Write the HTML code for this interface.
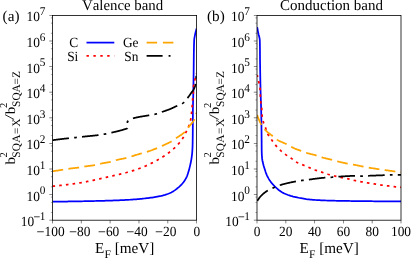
<!DOCTYPE html>
<html><head><meta charset="utf-8"><title>plot</title>
<style>html,body{margin:0;padding:0;background:#fff;overflow:hidden}body{width:411px;height:259px}</style></head>
<body>
<svg width="411" height="259" viewBox="0 0 411 259" text-rendering="geometricPrecision" style="display:block;font-kerning:none;font-family:'Liberation Serif',serif" fill="#000">
<rect width="411" height="259" fill="#fff"/>
<clipPath id="c1"><rect x="52.50" y="15.40" width="144.10" height="204.80"/></clipPath>
<g clip-path="url(#c1)">
<path d="M52.50,201.70 L53.83,201.69 L55.16,201.67 L56.49,201.66 L57.82,201.64 L59.15,201.62 L60.48,201.61 L61.80,201.59 L63.13,201.57 L64.46,201.55 L65.79,201.53 L67.12,201.51 L68.45,201.49 L69.78,201.47 L71.11,201.45 L72.44,201.43 L73.77,201.41 L75.10,201.39 L76.43,201.36 L77.75,201.34 L79.08,201.32 L80.41,201.29 L81.74,201.27 L83.07,201.25 L84.40,201.22 L85.73,201.20 L87.06,201.17 L88.39,201.14 L89.72,201.11 L91.04,201.09 L92.37,201.06 L93.70,201.03 L95.03,201.00 L96.36,200.97 L97.69,200.93 L99.02,200.90 L100.35,200.87 L101.68,200.83 L103.01,200.79 L104.33,200.76 L105.66,200.72 L106.99,200.68 L108.32,200.64 L109.65,200.60 L110.98,200.55 L112.31,200.51 L113.64,200.46 L114.96,200.42 L116.29,200.37 L117.62,200.32 L118.95,200.26 L120.28,200.21 L121.61,200.15 L122.94,200.09 L124.26,200.03 L125.59,199.96 L126.92,199.89 L128.24,199.82 L129.57,199.75 L130.90,199.67 L132.22,199.58 L133.55,199.49 L134.87,199.39 L136.20,199.28 L137.52,199.17 L138.85,199.04 L140.17,198.92 L141.50,198.78 L142.82,198.64 L144.14,198.50 L145.46,198.35 L146.78,198.19 L148.10,198.03 L149.42,197.87 L150.74,197.70 L152.05,197.51 L153.37,197.30 L154.68,197.07 L155.99,196.85 L157.30,196.62 L158.61,196.38 L159.92,196.12 L161.22,195.85 L162.51,195.55 L163.79,195.22 L165.08,194.85 L166.36,194.45 L167.63,194.02 L168.88,193.55 L170.09,193.04 L171.26,192.48 L172.42,191.84 L173.55,191.14 L174.67,190.38 L175.75,189.58 L176.82,188.76 L177.85,187.92 L178.86,187.08 L179.86,186.18 L180.83,185.25 L181.76,184.29 L182.63,183.29 L183.44,182.26 L184.21,181.18 L184.95,180.06 L185.64,178.91 L186.28,177.73 L186.84,176.53 L187.33,175.31 L187.77,174.06 L188.17,172.78 L188.55,171.50 L188.92,170.22 L189.27,168.94 L189.60,167.65 L189.92,166.36 L190.21,165.07 L190.50,163.77 L190.78,162.47 L191.04,161.16 L191.28,159.85 L191.49,158.54 L191.68,157.23 L191.86,155.91 L192.02,154.59 L192.15,153.27 L192.26,151.94 L192.35,150.62 L192.43,149.29 L192.49,147.96 L192.55,146.63 L192.59,145.30 L192.62,143.97 L192.65,142.65 L192.67,141.32 L192.69,139.99 L192.71,138.66 L192.73,137.33 L192.75,136.00 L192.76,134.67 L192.77,133.34 L192.78,132.01 L192.79,130.68 L192.80,129.35 L192.81,128.02 L192.82,126.69 L192.83,125.36 L192.83,124.03 L192.84,122.71 L192.84,121.38 L192.85,120.05 L192.85,118.72 L192.86,117.39 L192.86,116.06 L192.87,114.73 L192.88,113.40 L192.88,112.07 L192.89,110.74 L192.91,109.41 L192.92,108.08 L192.95,106.76 L192.97,105.43 L193.01,104.10 L193.04,102.77 L193.08,101.44 L193.12,100.11 L193.15,98.78 L193.19,97.45 L193.23,96.12 L193.26,94.80 L193.29,93.47 L193.32,92.14 L193.34,90.81 L193.37,89.48 L193.39,88.15 L193.41,86.82 L193.44,85.49 L193.46,84.16 L193.48,82.83 L193.50,81.50 L193.52,80.18 L193.54,78.85 L193.56,77.52 L193.58,76.19 L193.60,74.86 L193.62,73.53 L193.64,72.20 L193.65,70.87 L193.67,69.54 L193.68,68.21 L193.69,66.88 L193.71,65.55 L193.72,64.22 L193.73,62.90 L193.75,61.57 L193.76,60.24 L193.77,58.91 L193.79,57.58 L193.81,56.25 L193.82,54.92 L193.84,53.59 L193.86,52.26 L193.88,50.93 L193.91,49.60 L193.93,48.27 L193.96,46.94 L193.99,45.61 L194.02,44.28 L194.07,42.95 L194.12,41.62 L194.18,40.30 L194.29,38.98 L194.49,37.66 L194.73,36.35 L194.98,35.05 L195.25,33.75 L195.55,32.46 L195.87,31.16 L196.22,29.88 L196.60,28.60" stroke="#0000ff" stroke-width="1.75" fill="none" stroke-linejoin="round"/>
<path d="M52.50,186.20 L53.45,186.12 L54.41,186.04 L55.36,185.95 L56.32,185.86 L57.27,185.77 L58.22,185.68 L59.17,185.58 L60.13,185.48 L61.08,185.38 L62.03,185.27 L62.98,185.16 L63.93,185.05 L64.88,184.93 L65.83,184.82 L66.77,184.70 L67.72,184.58 L68.67,184.45 L69.62,184.33 L70.56,184.20 L71.51,184.07 L72.45,183.94 L73.40,183.80 L74.34,183.67 L75.29,183.53 L76.23,183.39 L77.18,183.25 L78.12,183.10 L79.06,182.96 L80.00,182.81 L80.95,182.67 L81.89,182.51 L82.83,182.35 L83.77,182.19 L84.71,182.02 L85.64,181.84 L86.58,181.67 L87.52,181.48 L88.46,181.30 L89.39,181.11 L90.33,180.91 L91.27,180.72 L92.20,180.52 L93.14,180.32 L94.07,180.11 L95.01,179.91 L95.94,179.70 L96.87,179.49 L97.81,179.28 L98.74,179.07 L99.67,178.85 L100.60,178.64 L101.54,178.42 L102.47,178.21 L103.40,178.00 L104.33,177.78 L105.27,177.57 L106.20,177.36 L107.13,177.15 L108.06,176.94 L108.99,176.73 L109.93,176.52 L110.86,176.31 L111.79,176.10 L112.73,175.89 L113.66,175.68 L114.60,175.47 L115.53,175.26 L116.46,175.04 L117.39,174.83 L118.33,174.61 L119.26,174.39 L120.19,174.17 L121.12,173.94 L122.05,173.71 L122.98,173.48 L123.90,173.25 L124.83,173.01 L125.75,172.77 L126.67,172.52 L127.59,172.27 L128.51,172.02 L129.43,171.76 L130.34,171.49 L131.26,171.22 L132.17,170.95 L133.08,170.66 L133.99,170.37 L134.90,170.07 L135.80,169.76 L136.71,169.44 L137.61,169.12 L138.51,168.79 L139.41,168.46 L140.30,168.12 L141.19,167.77 L142.08,167.42 L142.97,167.06 L143.85,166.70 L144.73,166.34 L145.60,165.96 L146.48,165.58 L147.35,165.19 L148.22,164.79 L149.09,164.38 L149.95,163.97 L150.82,163.55 L151.67,163.12 L152.53,162.69 L153.38,162.25 L154.23,161.81 L155.07,161.36 L155.91,160.91 L156.75,160.45 L157.58,159.99 L158.41,159.52 L159.24,159.04 L160.07,158.56 L160.89,158.07 L161.72,157.57 L162.53,157.07 L163.34,156.56 L164.15,156.03 L164.95,155.51 L165.74,154.97 L166.52,154.42 L167.30,153.87 L168.06,153.31 L168.81,152.73 L169.56,152.15 L170.31,151.55 L171.05,150.95 L171.79,150.33 L172.52,149.71 L173.24,149.07 L173.96,148.43 L174.67,147.77 L175.36,147.11 L176.05,146.44 L176.72,145.76 L177.39,145.08 L178.03,144.39 L178.67,143.69 L179.30,142.97 L179.92,142.24 L180.53,141.49 L181.11,140.73 L181.68,139.96 L182.23,139.17 L182.74,138.38 L183.23,137.56 L183.70,136.73 L184.15,135.89 L184.59,135.03 L185.02,134.17 L185.44,133.32 L185.87,132.46 L186.30,131.61 L186.74,130.75 L187.16,129.89 L187.58,129.03 L187.97,128.16 L188.34,127.28 L188.68,126.39 L189.00,125.50 L189.32,124.59 L189.63,123.68 L189.91,122.76 L190.18,121.84 L190.41,120.91 L190.60,119.98 L190.77,119.05 L190.92,118.11 L191.06,117.16 L191.19,116.21 L191.30,115.26 L191.41,114.31 L191.52,113.36 L191.61,112.41 L191.70,111.46 L191.78,110.50 L191.86,109.55 L191.94,108.60 L192.02,107.65 L192.09,106.69 L192.17,105.74 L192.24,104.79 L192.31,103.83 L192.38,102.88 L192.45,101.93 L192.52,100.98 L192.60,100.02 L192.69,99.07 L192.79,98.12 L192.90,97.17 L193.00,96.22 L193.11,95.27 L193.20,94.32 L193.28,93.37 L193.33,92.42 L193.37,91.46 L193.41,90.50 L193.44,89.54 L193.47,88.59 L193.51,87.63 L193.55,86.68 L193.62,85.74 L193.75,84.80 L193.94,83.86 L194.17,82.93 L194.42,82.00 L194.67,81.07 L194.89,80.14 L195.09,79.21 L195.30,78.27 L195.50,77.34 L195.70,76.40 L195.90,75.47 L196.10,74.53 L196.30,73.60" stroke="#ff0000" stroke-width="1.75" fill="none" stroke-linejoin="round" stroke-dasharray="2.6 4.14" stroke-dashoffset="0.00"/>
<path d="M52.50,171.20 L53.24,171.11 L53.97,171.01 L54.71,170.91 L55.45,170.82 L56.18,170.71 L56.92,170.61 L57.65,170.51 L58.39,170.40 L59.12,170.30 L59.86,170.19 L60.59,170.08 L61.32,169.97 L62.06,169.86 L62.79,169.75 L63.52,169.63 L64.26,169.51 L64.99,169.39 L65.72,169.26 L66.45,169.13 L67.18,169.00 L67.92,168.88 L68.65,168.77 L69.38,168.66 L70.12,168.56 L70.85,168.47 L71.59,168.38 L72.33,168.30 L73.07,168.22 L73.81,168.14 L74.55,168.06 L75.28,167.98 L76.02,167.90 L76.76,167.81 L77.50,167.72 L78.23,167.62 L78.97,167.52 L79.70,167.41 L80.43,167.28 L81.16,167.14 L81.89,167.00 L82.62,166.85 L83.35,166.72 L84.08,166.59 L84.81,166.47 L85.54,166.36 L86.28,166.26 L87.02,166.17 L87.76,166.08 L88.50,165.99 L89.24,165.91 L89.98,165.83 L90.71,165.74 L91.45,165.65 L92.19,165.56 L92.92,165.46 L93.66,165.35 L94.39,165.24 L95.12,165.12 L95.84,164.97 L96.56,164.80 L97.28,164.60 L97.99,164.40 L98.71,164.19 L99.43,163.99 L100.14,163.81 L100.87,163.64 L101.59,163.49 L102.32,163.35 L103.05,163.22 L103.79,163.09 L104.52,162.96 L105.26,162.84 L105.99,162.72 L106.72,162.60 L107.46,162.48 L108.19,162.35 L108.92,162.21 L109.65,162.07 L110.37,161.92 L111.09,161.75 L111.80,161.57 L112.51,161.35 L113.22,161.12 L113.92,160.87 L114.62,160.62 L115.33,160.39 L116.04,160.17 L116.75,159.98 L117.47,159.81 L118.20,159.64 L118.92,159.48 L119.65,159.33 L120.38,159.19 L121.11,159.04 L121.84,158.90 L122.57,158.76 L123.30,158.62 L124.03,158.47 L124.76,158.32 L125.48,158.16 L126.21,158.00 L126.92,157.82 L127.64,157.63 L128.35,157.43 L129.06,157.21 L129.76,156.97 L130.47,156.73 L131.17,156.50 L131.88,156.27 L132.59,156.05 L133.30,155.83 L134.01,155.61 L134.72,155.39 L135.43,155.18 L136.14,154.96 L136.85,154.75 L137.56,154.53 L138.27,154.32 L138.98,154.11 L139.70,153.90 L140.41,153.69 L141.12,153.48 L141.83,153.28 L142.55,153.07 L143.26,152.88 L143.98,152.68 L144.70,152.49 L145.41,152.29 L146.13,152.09 L146.84,151.88 L147.55,151.66 L148.25,151.43 L148.96,151.20 L149.66,150.96 L150.36,150.71 L151.06,150.46 L151.76,150.21 L152.46,149.95 L153.15,149.69 L153.85,149.43 L154.54,149.16 L155.23,148.89 L155.92,148.61 L156.61,148.34 L157.30,148.06 L157.98,147.78 L158.67,147.49 L159.35,147.19 L160.02,146.89 L160.70,146.58 L161.38,146.27 L162.05,145.96 L162.72,145.64 L163.40,145.33 L164.07,145.02 L164.75,144.71 L165.42,144.40 L166.10,144.08 L166.77,143.76 L167.45,143.44 L168.12,143.12 L168.78,142.79 L169.44,142.45 L170.10,142.11 L170.75,141.76 L171.39,141.39 L172.03,141.02 L172.66,140.63 L173.28,140.22 L173.89,139.80 L174.49,139.37 L175.10,138.93 L175.70,138.50 L176.31,138.07 L176.92,137.64 L177.54,137.22 L178.16,136.81 L178.79,136.40 L179.42,135.99 L180.05,135.58 L180.68,135.16 L181.29,134.74 L181.90,134.31 L182.50,133.87 L183.08,133.42 L183.65,132.96 L184.20,132.48 L184.72,131.98 L185.23,131.46 L185.71,130.90 L186.18,130.33 L186.64,129.74 L187.09,129.14 L187.53,128.53 L187.98,127.93 L188.42,127.33 L188.88,126.74 L189.35,126.16 L189.84,125.58 L190.33,125.00 L190.82,124.42 L191.31,123.85 L191.79,123.26 L192.27,122.68 L192.72,122.08 L193.16,121.48 L193.57,120.87 L193.95,120.26 L194.30,119.62 L194.61,118.98 L194.89,118.32 L195.16,117.65 L195.42,116.96 L195.66,116.26 L195.89,115.55 L196.10,114.82 L196.29,114.09 L196.45,113.35 L196.60,112.60" stroke="#ffa500" stroke-width="1.75" fill="none" stroke-linejoin="round" stroke-dasharray="10.8 5.3" stroke-dashoffset="0.00"/>
<path d="M52.50,140.20 L52.84,140.15 L53.19,140.11 L53.53,140.06 L53.87,140.02 L54.22,139.97 L54.56,139.92 L54.90,139.88 L55.25,139.84 L55.59,139.79 L55.94,139.75 L56.28,139.70 L56.62,139.66 L56.97,139.61 L57.31,139.57 L57.65,139.53 L58.00,139.48 L58.34,139.44 L58.69,139.40 L59.03,139.36 L59.37,139.31 L59.72,139.27 L60.06,139.23 L60.41,139.19 L60.75,139.15 L61.09,139.11 L61.44,139.07 L61.78,139.03 L62.13,138.98 L62.47,138.94 L62.81,138.90 L63.16,138.86 L63.50,138.82 L63.85,138.78 L64.19,138.74 L64.54,138.71 L64.88,138.67 L65.22,138.63 L65.57,138.59 L65.91,138.55 L66.26,138.51 L66.60,138.47 L66.95,138.44 L67.29,138.40 L67.63,138.36 L67.98,138.32 L68.32,138.28 L68.67,138.25 L69.01,138.21 L69.36,138.17 L69.70,138.14 L70.05,138.10 L70.39,138.07 L70.74,138.03 L71.08,138.00 L71.43,137.96 L71.77,137.93 L72.12,137.90 L72.46,137.86 L72.80,137.83 L73.15,137.80 L73.49,137.76 L73.84,137.73 L74.18,137.69 L74.53,137.66 L74.87,137.62 L75.22,137.59 L75.56,137.55 L75.91,137.51 L76.25,137.48 L76.60,137.44 L76.94,137.40 L77.28,137.36 L77.63,137.32 L77.97,137.28 L78.32,137.24 L78.66,137.20 L79.01,137.16 L79.35,137.12 L79.69,137.08 L80.04,137.04 L80.38,137.00 L80.73,136.96 L81.07,136.93 L81.42,136.89 L81.76,136.85 L82.10,136.81 L82.45,136.77 L82.79,136.74 L83.14,136.70 L83.48,136.66 L83.83,136.63 L84.17,136.59 L84.52,136.55 L84.86,136.52 L85.21,136.48 L85.55,136.45 L85.90,136.41 L86.24,136.38 L86.59,136.35 L86.93,136.31 L87.28,136.28 L87.62,136.24 L87.97,136.21 L88.31,136.18 L88.66,136.14 L89.00,136.11 L89.35,136.07 L89.69,136.04 L90.04,136.00 L90.38,135.97 L90.72,135.94 L91.07,135.90 L91.41,135.87 L91.76,135.83 L92.10,135.80 L92.45,135.76 L92.79,135.72 L93.14,135.69 L93.48,135.65 L93.83,135.61 L94.17,135.58 L94.52,135.54 L94.86,135.50 L95.20,135.46 L95.55,135.42 L95.89,135.38 L96.24,135.34 L96.58,135.30 L96.92,135.26 L97.27,135.22 L97.61,135.17 L97.95,135.13 L98.30,135.09 L98.64,135.04 L98.98,135.00 L99.33,134.95 L99.67,134.90 L100.01,134.85 L100.36,134.80 L100.70,134.75 L101.04,134.70 L101.39,134.65 L101.73,134.60 L102.07,134.54 L102.41,134.49 L102.76,134.43 L103.10,134.38 L103.44,134.32 L103.78,134.26 L104.12,134.20 L104.46,134.14 L104.80,134.08 L105.14,134.02 L105.49,133.96 L105.83,133.89 L106.17,133.82 L106.50,133.75 L106.84,133.68 L107.18,133.61 L107.52,133.54 L107.86,133.47 L108.20,133.40 L108.54,133.32 L108.88,133.25 L109.22,133.17 L109.55,133.09 L109.89,133.02 L110.23,132.94 L110.57,132.87 L110.91,132.79 L111.24,132.71 L111.58,132.64 L111.92,132.56 L112.26,132.48 L112.60,132.41 L112.93,132.33 L113.27,132.25 L113.61,132.17 L113.95,132.10 L114.28,132.02 L114.62,131.94 L114.96,131.86 L115.30,131.78 L115.63,131.70 L115.97,131.62 L116.31,131.54 L116.65,131.46 L116.98,131.37 L117.32,131.29 L117.65,131.21 L117.99,131.12 L118.33,131.04 L118.66,130.95 L119.00,130.86 L119.33,130.78 L119.67,130.69 L120.00,130.60 L120.34,130.51 L120.67,130.42 L121.00,130.33 L121.34,130.23 L121.67,130.14 L122.00,130.04 L122.34,129.95 L122.67,129.85 L123.00,129.75 L123.33,129.65 L123.67,129.55 L124.00,129.45 L124.33,129.35 L124.66,129.25 L124.99,129.14 L125.32,129.04 L125.65,128.94 L125.98,128.83 L126.31,128.73 L126.64,128.62 L126.97,128.51 L127.30,128.40 L127.50,121.50 L127.85,121.25 L128.20,121.01 L128.56,120.76 L128.91,120.52 L129.27,120.28 L129.63,120.05 L129.99,119.82 L130.36,119.60 L130.72,119.39 L131.09,119.19 L131.46,119.01 L131.83,118.83 L132.21,118.68 L132.59,118.54 L132.98,118.41 L133.36,118.29 L133.75,118.17 L134.14,118.06 L134.54,117.95 L134.93,117.85 L135.33,117.75 L135.74,117.65 L136.14,117.55 L136.54,117.46 L136.95,117.37 L137.36,117.28 L137.77,117.20 L138.18,117.11 L138.60,117.03 L139.01,116.96 L139.43,116.88 L139.85,116.80 L140.26,116.73 L140.68,116.66 L141.10,116.59 L141.52,116.52 L141.94,116.45 L142.37,116.38 L142.79,116.32 L143.21,116.25 L143.63,116.19 L144.06,116.12 L144.48,116.05 L144.90,115.99 L145.32,115.92 L145.74,115.85 L146.16,115.79 L146.58,115.72 L147.00,115.65 L147.42,115.58 L147.84,115.51 L148.25,115.43 L148.67,115.36 L149.08,115.28 L149.50,115.21 L149.91,115.14 L150.33,115.07 L150.74,115.00 L151.16,114.94 L151.58,114.87 L151.99,114.80 L152.41,114.74 L152.82,114.67 L153.24,114.59 L153.65,114.52 L154.06,114.44 L154.47,114.36 L154.88,114.27 L155.29,114.18 L155.69,114.08 L156.10,113.97 L156.50,113.85 L156.90,113.73 L157.30,113.60 L157.70,113.46 L158.09,113.32 L158.49,113.18 L158.89,113.03 L159.28,112.89 L159.68,112.74 L160.08,112.60 L160.47,112.45 L160.87,112.31 L161.27,112.18 L161.67,112.04 L162.06,111.91 L162.46,111.77 L162.86,111.64 L163.26,111.50 L163.66,111.37 L164.06,111.24 L164.46,111.10 L164.86,110.97 L165.26,110.83 L165.65,110.70 L166.05,110.56 L166.45,110.42 L166.85,110.28 L167.24,110.14 L167.64,110.00 L168.03,109.86 L168.43,109.71 L168.82,109.56 L169.21,109.41 L169.60,109.26 L169.99,109.10 L170.38,108.95 L170.76,108.78 L171.15,108.61 L171.53,108.44 L171.91,108.27 L172.30,108.09 L172.68,107.91 L173.06,107.73 L173.44,107.55 L173.82,107.37 L174.19,107.19 L174.57,107.00 L174.95,106.82 L175.33,106.64 L175.71,106.46 L176.10,106.28 L176.48,106.11 L176.86,105.94 L177.26,105.78 L177.65,105.62 L178.05,105.46 L178.46,105.30 L178.86,105.15 L179.26,105.00 L179.66,104.84 L180.06,104.68 L180.45,104.52 L180.84,104.35 L181.22,104.17 L181.58,103.99 L181.94,103.80 L182.29,103.60 L182.62,103.38 L182.95,103.15 L183.26,102.91 L183.57,102.64 L183.88,102.36 L184.17,102.07 L184.47,101.77 L184.75,101.46 L185.04,101.13 L185.32,100.81 L185.59,100.47 L185.87,100.13 L186.14,99.80 L186.40,99.46 L186.67,99.12 L186.93,98.78 L187.20,98.45 L187.46,98.12 L187.72,97.80 L187.98,97.47 L188.24,97.13 L188.49,96.80 L188.74,96.46 L188.98,96.12 L189.23,95.78 L189.47,95.43 L189.72,95.09 L189.96,94.74 L190.20,94.40 L190.44,94.05 L190.67,93.70 L190.91,93.36 L191.15,93.01 L191.39,92.67 L191.64,92.32 L191.89,91.98 L192.15,91.64 L192.40,91.30 L192.66,90.96 L192.91,90.61 L193.15,90.27 L193.38,89.92 L193.60,89.56 L193.80,89.20 L193.98,88.83 L194.16,88.46 L194.33,88.08 L194.50,87.69 L194.66,87.30 L194.81,86.90 L194.96,86.50 L195.09,86.09 L195.21,85.68 L195.31,85.28 L195.39,84.87 L195.45,84.46 L195.51,84.05 L195.57,83.64 L195.62,83.22 L195.66,82.81 L195.70,82.39 L195.74,81.97 L195.78,81.54 L195.81,81.12 L195.85,80.70 L195.88,80.28 L195.92,79.86 L195.96,79.44 L196.00,79.02 L196.04,78.60 L196.08,78.18 L196.13,77.76 L196.17,77.35 L196.21,76.93 L196.25,76.51 L196.29,76.09 L196.33,75.67 L196.38,75.25 L196.42,74.84 L196.46,74.42 L196.50,74.00" stroke="#000000" stroke-width="1.75" fill="none" stroke-linejoin="round" stroke-dasharray="16.6 5.2 2.7 5.2" stroke-dashoffset="0.00"/>
</g>
<rect x="52.50" y="15.40" width="144.10" height="204.80" fill="none" stroke="#000" stroke-width="0.80"/>
<line x1="49.30" y1="220.20" x2="52.50" y2="220.20" stroke="#000" stroke-width="0.7" opacity="0.7"/>
<line x1="50.90" y1="212.49" x2="52.50" y2="212.49" stroke="#000" stroke-width="0.6" opacity="0.6"/>
<line x1="50.90" y1="202.31" x2="52.50" y2="202.31" stroke="#000" stroke-width="0.6" opacity="0.6"/>
<line x1="50.90" y1="197.08" x2="52.50" y2="197.08" stroke="#000" stroke-width="0.6" opacity="0.6"/>
<line x1="49.30" y1="194.60" x2="52.50" y2="194.60" stroke="#000" stroke-width="0.7" opacity="0.7"/>
<line x1="50.90" y1="186.89" x2="52.50" y2="186.89" stroke="#000" stroke-width="0.6" opacity="0.6"/>
<line x1="50.90" y1="176.71" x2="52.50" y2="176.71" stroke="#000" stroke-width="0.6" opacity="0.6"/>
<line x1="50.90" y1="171.48" x2="52.50" y2="171.48" stroke="#000" stroke-width="0.6" opacity="0.6"/>
<line x1="49.30" y1="169.00" x2="52.50" y2="169.00" stroke="#000" stroke-width="0.7" opacity="0.7"/>
<line x1="50.90" y1="161.29" x2="52.50" y2="161.29" stroke="#000" stroke-width="0.6" opacity="0.6"/>
<line x1="50.90" y1="151.11" x2="52.50" y2="151.11" stroke="#000" stroke-width="0.6" opacity="0.6"/>
<line x1="50.90" y1="145.88" x2="52.50" y2="145.88" stroke="#000" stroke-width="0.6" opacity="0.6"/>
<line x1="49.30" y1="143.40" x2="52.50" y2="143.40" stroke="#000" stroke-width="0.7" opacity="0.7"/>
<line x1="50.90" y1="135.69" x2="52.50" y2="135.69" stroke="#000" stroke-width="0.6" opacity="0.6"/>
<line x1="50.90" y1="125.51" x2="52.50" y2="125.51" stroke="#000" stroke-width="0.6" opacity="0.6"/>
<line x1="50.90" y1="120.28" x2="52.50" y2="120.28" stroke="#000" stroke-width="0.6" opacity="0.6"/>
<line x1="49.30" y1="117.80" x2="52.50" y2="117.80" stroke="#000" stroke-width="0.7" opacity="0.7"/>
<line x1="50.90" y1="110.09" x2="52.50" y2="110.09" stroke="#000" stroke-width="0.6" opacity="0.6"/>
<line x1="50.90" y1="99.91" x2="52.50" y2="99.91" stroke="#000" stroke-width="0.6" opacity="0.6"/>
<line x1="50.90" y1="94.68" x2="52.50" y2="94.68" stroke="#000" stroke-width="0.6" opacity="0.6"/>
<line x1="49.30" y1="92.20" x2="52.50" y2="92.20" stroke="#000" stroke-width="0.7" opacity="0.7"/>
<line x1="50.90" y1="84.49" x2="52.50" y2="84.49" stroke="#000" stroke-width="0.6" opacity="0.6"/>
<line x1="50.90" y1="74.31" x2="52.50" y2="74.31" stroke="#000" stroke-width="0.6" opacity="0.6"/>
<line x1="50.90" y1="69.08" x2="52.50" y2="69.08" stroke="#000" stroke-width="0.6" opacity="0.6"/>
<line x1="49.30" y1="66.60" x2="52.50" y2="66.60" stroke="#000" stroke-width="0.7" opacity="0.7"/>
<line x1="50.90" y1="58.89" x2="52.50" y2="58.89" stroke="#000" stroke-width="0.6" opacity="0.6"/>
<line x1="50.90" y1="48.71" x2="52.50" y2="48.71" stroke="#000" stroke-width="0.6" opacity="0.6"/>
<line x1="50.90" y1="43.48" x2="52.50" y2="43.48" stroke="#000" stroke-width="0.6" opacity="0.6"/>
<line x1="49.30" y1="41.00" x2="52.50" y2="41.00" stroke="#000" stroke-width="0.7" opacity="0.7"/>
<line x1="50.90" y1="33.29" x2="52.50" y2="33.29" stroke="#000" stroke-width="0.6" opacity="0.6"/>
<line x1="50.90" y1="23.11" x2="52.50" y2="23.11" stroke="#000" stroke-width="0.6" opacity="0.6"/>
<line x1="50.90" y1="17.88" x2="52.50" y2="17.88" stroke="#000" stroke-width="0.6" opacity="0.6"/>
<line x1="49.30" y1="15.40" x2="52.50" y2="15.40" stroke="#000" stroke-width="0.7" opacity="0.7"/>
<line x1="52.50" y1="220.20" x2="52.50" y2="223.40" stroke="#000" stroke-width="0.7" opacity="0.7"/>
<line x1="81.32" y1="220.20" x2="81.32" y2="223.40" stroke="#000" stroke-width="0.7" opacity="0.7"/>
<line x1="110.14" y1="220.20" x2="110.14" y2="223.40" stroke="#000" stroke-width="0.7" opacity="0.7"/>
<line x1="138.96" y1="220.20" x2="138.96" y2="223.40" stroke="#000" stroke-width="0.7" opacity="0.7"/>
<line x1="167.78" y1="220.20" x2="167.78" y2="223.40" stroke="#000" stroke-width="0.7" opacity="0.7"/>
<line x1="196.60" y1="220.20" x2="196.60" y2="223.40" stroke="#000" stroke-width="0.7" opacity="0.7"/>
<clipPath id="c2"><rect x="257.00" y="15.40" width="144.00" height="204.80"/></clipPath>
<g clip-path="url(#c2)">
<path d="M257.20,27.10 L257.41,28.42 L257.64,29.74 L257.89,31.05 L258.15,32.36 L258.43,33.66 L258.74,34.96 L259.10,36.25 L259.42,37.54 L259.63,38.86 L259.79,40.19 L259.83,41.51 L259.86,42.85 L259.88,44.18 L259.90,45.51 L259.92,46.84 L259.93,48.18 L259.95,49.51 L259.96,50.85 L259.97,52.18 L259.98,53.52 L259.98,54.86 L259.99,56.19 L260.00,57.53 L260.01,58.87 L260.03,60.20 L260.04,61.54 L260.06,62.87 L260.08,64.21 L260.10,65.54 L260.12,66.88 L260.14,68.21 L260.16,69.54 L260.18,70.88 L260.20,72.21 L260.23,73.55 L260.25,74.88 L260.27,76.22 L260.29,77.55 L260.32,78.89 L260.34,80.22 L260.37,81.56 L260.39,82.89 L260.42,84.22 L260.45,85.56 L260.48,86.89 L260.50,88.23 L260.54,89.56 L260.57,90.90 L260.61,92.23 L260.64,93.56 L260.68,94.90 L260.73,96.23 L260.77,97.57 L260.81,98.90 L260.86,100.23 L260.90,101.57 L260.95,102.90 L260.99,104.24 L261.03,105.57 L261.07,106.90 L261.11,108.24 L261.15,109.57 L261.18,110.91 L261.21,112.24 L261.24,113.58 L261.27,114.91 L261.29,116.24 L261.32,117.58 L261.34,118.91 L261.36,120.25 L261.38,121.58 L261.41,122.92 L261.43,124.25 L261.45,125.59 L261.47,126.92 L261.48,128.25 L261.50,129.59 L261.52,130.92 L261.54,132.26 L261.55,133.59 L261.57,134.93 L261.58,136.26 L261.60,137.60 L261.61,138.93 L261.62,140.27 L261.63,141.60 L261.63,142.94 L261.64,144.27 L261.65,145.61 L261.66,146.94 L261.67,148.27 L261.69,149.61 L261.70,150.94 L261.74,152.28 L261.79,153.62 L261.85,154.95 L261.94,156.29 L262.04,157.61 L262.15,158.93 L262.35,160.25 L262.62,161.56 L262.93,162.87 L263.25,164.17 L263.58,165.46 L263.95,166.74 L264.35,168.02 L264.75,169.29 L265.16,170.57 L265.58,171.84 L266.03,173.10 L266.52,174.33 L267.06,175.54 L267.64,176.75 L268.27,177.94 L268.93,179.11 L269.63,180.25 L270.37,181.35 L271.15,182.41 L271.99,183.45 L272.88,184.46 L273.81,185.44 L274.76,186.39 L275.72,187.30 L276.69,188.22 L277.70,189.12 L278.73,190.00 L279.79,190.83 L280.87,191.59 L281.99,192.28 L283.15,192.90 L284.36,193.47 L285.59,194.01 L286.85,194.50 L288.10,194.97 L289.36,195.40 L290.63,195.81 L291.91,196.19 L293.20,196.55 L294.50,196.87 L295.79,197.18 L297.10,197.47 L298.41,197.74 L299.72,197.99 L301.03,198.23 L302.35,198.46 L303.66,198.68 L304.98,198.89 L306.30,199.10 L307.63,199.28 L308.95,199.43 L310.28,199.56 L311.60,199.68 L312.93,199.79 L314.26,199.90 L315.60,200.00 L316.93,200.09 L318.26,200.17 L319.60,200.24 L320.93,200.31 L322.26,200.37 L323.60,200.41 L324.93,200.46 L326.26,200.50 L327.60,200.54 L328.93,200.58 L330.26,200.62 L331.60,200.65 L332.93,200.69 L334.27,200.72 L335.60,200.75 L336.94,200.78 L338.27,200.81 L339.61,200.83 L340.94,200.86 L342.28,200.88 L343.61,200.90 L344.95,200.92 L346.28,200.94 L347.61,200.96 L348.95,200.98 L350.28,201.00 L351.62,201.01 L352.95,201.03 L354.29,201.05 L355.62,201.06 L356.96,201.08 L358.29,201.09 L359.63,201.11 L360.96,201.12 L362.29,201.14 L363.63,201.15 L364.96,201.17 L366.30,201.18 L367.63,201.20 L368.97,201.21 L370.30,201.23 L371.64,201.24 L372.97,201.25 L374.31,201.26 L375.64,201.28 L376.98,201.29 L378.31,201.30 L379.64,201.31 L380.98,201.32 L382.31,201.33 L383.65,201.34 L384.98,201.35 L386.32,201.36 L387.65,201.36 L388.99,201.37 L390.32,201.38 L391.66,201.38 L392.99,201.39 L394.33,201.39 L395.66,201.39 L397.00,201.40 L398.33,201.40 L399.67,201.40 L401.00,201.40" stroke="#0000ff" stroke-width="1.75" fill="none" stroke-linejoin="round"/>
<path d="M257.20,75.10 L257.42,76.03 L257.64,76.96 L257.85,77.89 L258.07,78.82 L258.28,79.75 L258.49,80.68 L258.69,81.61 L258.90,82.54 L259.13,83.47 L259.37,84.40 L259.61,85.33 L259.81,86.26 L259.97,87.20 L260.06,88.14 L260.12,89.09 L260.16,90.04 L260.19,90.99 L260.22,91.95 L260.25,92.90 L260.28,93.86 L260.32,94.82 L260.36,95.77 L260.42,96.72 L260.48,97.67 L260.55,98.63 L260.63,99.58 L260.71,100.53 L260.79,101.48 L260.88,102.43 L261.00,103.37 L261.13,104.32 L261.27,105.26 L261.41,106.21 L261.54,107.15 L261.66,108.10 L261.75,109.05 L261.81,110.00 L261.85,110.95 L261.89,111.91 L261.93,112.86 L261.97,113.82 L262.03,114.77 L262.12,115.71 L262.24,116.66 L262.40,117.60 L262.58,118.54 L262.78,119.48 L263.00,120.41 L263.23,121.34 L263.47,122.26 L263.74,123.17 L264.04,124.07 L264.37,124.96 L264.72,125.86 L265.08,126.75 L265.43,127.64 L265.76,128.53 L266.08,129.44 L266.40,130.34 L266.72,131.25 L267.05,132.15 L267.40,133.04 L267.77,133.91 L268.18,134.75 L268.63,135.58 L269.14,136.38 L269.68,137.17 L270.24,137.96 L270.80,138.73 L271.37,139.51 L271.92,140.29 L272.47,141.07 L273.03,141.85 L273.59,142.62 L274.15,143.39 L274.73,144.15 L275.32,144.90 L275.93,145.63 L276.55,146.35 L277.18,147.06 L277.83,147.77 L278.49,148.46 L279.17,149.14 L279.85,149.80 L280.55,150.45 L281.25,151.09 L281.98,151.71 L282.72,152.31 L283.46,152.91 L284.22,153.50 L284.98,154.07 L285.75,154.64 L286.53,155.19 L287.32,155.72 L288.12,156.24 L288.92,156.75 L289.73,157.27 L290.52,157.80 L291.31,158.34 L292.08,158.91 L292.82,159.51 L293.57,160.13 L294.31,160.73 L295.07,161.30 L295.86,161.82 L296.68,162.27 L297.52,162.69 L298.39,163.09 L299.27,163.46 L300.16,163.83 L301.06,164.18 L301.95,164.54 L302.83,164.91 L303.71,165.29 L304.59,165.65 L305.47,166.02 L306.35,166.38 L307.23,166.75 L308.11,167.11 L309.00,167.47 L309.88,167.84 L310.76,168.21 L311.63,168.59 L312.51,168.97 L313.39,169.34 L314.28,169.69 L315.16,170.04 L316.06,170.36 L316.96,170.67 L317.87,170.97 L318.78,171.26 L319.69,171.54 L320.60,171.83 L321.51,172.11 L322.42,172.41 L323.32,172.71 L324.23,173.02 L325.13,173.33 L326.03,173.64 L326.94,173.94 L327.84,174.23 L328.76,174.50 L329.67,174.77 L330.59,175.03 L331.51,175.28 L332.44,175.52 L333.36,175.76 L334.29,175.98 L335.21,176.20 L336.14,176.41 L337.08,176.62 L338.01,176.81 L338.95,177.00 L339.88,177.18 L340.82,177.36 L341.76,177.54 L342.70,177.71 L343.63,177.89 L344.57,178.08 L345.51,178.26 L346.44,178.46 L347.37,178.66 L348.30,178.87 L349.23,179.10 L350.15,179.34 L351.07,179.59 L351.99,179.83 L352.92,180.06 L353.85,180.28 L354.78,180.49 L355.71,180.69 L356.65,180.88 L357.58,181.07 L358.52,181.26 L359.45,181.44 L360.39,181.62 L361.33,181.80 L362.27,181.97 L363.20,182.15 L364.14,182.31 L365.08,182.48 L366.02,182.64 L366.96,182.80 L367.91,182.95 L368.85,183.09 L369.79,183.23 L370.74,183.37 L371.68,183.50 L372.63,183.63 L373.57,183.77 L374.51,183.92 L375.45,184.07 L376.39,184.23 L377.33,184.39 L378.27,184.56 L379.22,184.72 L380.16,184.87 L381.10,185.01 L382.04,185.15 L382.99,185.28 L383.93,185.40 L384.88,185.52 L385.83,185.64 L386.77,185.76 L387.72,185.88 L388.67,185.99 L389.61,186.11 L390.56,186.22 L391.51,186.34 L392.46,186.45 L393.41,186.55 L394.35,186.66 L395.30,186.76 L396.25,186.85 L397.20,186.95 L398.15,187.04 L399.10,187.13 L400.05,187.22 L401.00,187.30" stroke="#ff0000" stroke-width="1.75" fill="none" stroke-linejoin="round" stroke-dasharray="2.6 4.14" stroke-dashoffset="0.70"/>
<path d="M257.20,115.00 L257.42,115.72 L257.65,116.43 L257.89,117.13 L258.15,117.83 L258.42,118.52 L258.70,119.21 L258.99,119.88 L259.30,120.56 L259.61,121.22 L259.93,121.88 L260.25,122.54 L260.59,123.18 L260.93,123.83 L261.28,124.46 L261.65,125.10 L262.03,125.73 L262.44,126.36 L262.85,126.98 L263.29,127.59 L263.73,128.18 L264.19,128.76 L264.65,129.32 L265.13,129.86 L265.63,130.38 L266.15,130.89 L266.69,131.38 L267.24,131.86 L267.81,132.34 L268.38,132.81 L268.96,133.27 L269.55,133.73 L270.14,134.18 L270.74,134.63 L271.33,135.09 L271.91,135.55 L272.49,136.01 L273.06,136.48 L273.62,136.96 L274.19,137.44 L274.75,137.92 L275.32,138.40 L275.90,138.85 L276.49,139.29 L277.09,139.70 L277.71,140.08 L278.34,140.44 L278.98,140.78 L279.64,141.11 L280.30,141.42 L280.98,141.72 L281.66,142.02 L282.34,142.31 L283.02,142.60 L283.71,142.90 L284.39,143.19 L285.06,143.50 L285.73,143.82 L286.39,144.15 L287.04,144.49 L287.68,144.84 L288.33,145.21 L288.97,145.57 L289.61,145.94 L290.25,146.29 L290.90,146.64 L291.56,146.98 L292.21,147.31 L292.88,147.64 L293.54,147.96 L294.21,148.27 L294.88,148.58 L295.55,148.87 L296.24,149.14 L296.92,149.40 L297.62,149.65 L298.31,149.89 L299.01,150.12 L299.71,150.35 L300.41,150.59 L301.11,150.83 L301.80,151.09 L302.49,151.35 L303.17,151.63 L303.86,151.90 L304.55,152.17 L305.23,152.43 L305.93,152.68 L306.63,152.90 L307.33,153.12 L308.04,153.32 L308.75,153.51 L309.46,153.70 L310.17,153.88 L310.89,154.05 L311.61,154.23 L312.32,154.41 L313.04,154.58 L313.76,154.76 L314.47,154.95 L315.18,155.14 L315.89,155.35 L316.59,155.56 L317.29,155.79 L317.99,156.04 L318.68,156.29 L319.37,156.55 L320.07,156.80 L320.76,157.04 L321.46,157.26 L322.17,157.46 L322.88,157.66 L323.59,157.84 L324.30,158.02 L325.02,158.20 L325.73,158.37 L326.45,158.53 L327.17,158.70 L327.89,158.86 L328.61,159.03 L329.33,159.19 L330.05,159.36 L330.76,159.53 L331.48,159.71 L332.19,159.90 L332.90,160.09 L333.61,160.29 L334.32,160.50 L335.03,160.71 L335.73,160.92 L336.44,161.12 L337.15,161.31 L337.87,161.49 L338.58,161.67 L339.30,161.84 L340.01,162.01 L340.73,162.18 L341.45,162.34 L342.17,162.50 L342.89,162.66 L343.61,162.82 L344.33,162.97 L345.05,163.12 L345.77,163.27 L346.50,163.41 L347.22,163.55 L347.94,163.69 L348.67,163.82 L349.39,163.95 L350.12,164.07 L350.85,164.19 L351.58,164.30 L352.30,164.43 L353.03,164.55 L353.75,164.68 L354.48,164.82 L355.20,164.96 L355.92,165.10 L356.64,165.25 L357.37,165.39 L358.09,165.54 L358.81,165.69 L359.53,165.84 L360.25,165.99 L360.97,166.14 L361.70,166.28 L362.42,166.43 L363.14,166.57 L363.87,166.71 L364.59,166.85 L365.31,166.99 L366.04,167.13 L366.76,167.26 L367.48,167.40 L368.21,167.53 L368.93,167.66 L369.66,167.78 L370.39,167.90 L371.11,168.02 L371.84,168.14 L372.57,168.25 L373.30,168.37 L374.02,168.48 L374.75,168.59 L375.48,168.70 L376.21,168.81 L376.94,168.92 L377.67,169.03 L378.40,169.14 L379.13,169.25 L379.85,169.35 L380.58,169.46 L381.31,169.56 L382.04,169.66 L382.77,169.76 L383.50,169.86 L384.23,169.96 L384.96,170.06 L385.69,170.16 L386.42,170.26 L387.15,170.37 L387.88,170.47 L388.61,170.57 L389.34,170.67 L390.07,170.77 L390.80,170.88 L391.53,170.98 L392.26,171.08 L392.99,171.19 L393.72,171.29 L394.45,171.40 L395.17,171.51 L395.90,171.62 L396.63,171.72 L397.36,171.83 L398.09,171.95 L398.82,172.06 L399.54,172.17 L400.27,172.29 L401.00,172.40" stroke="#ffa500" stroke-width="1.75" fill="none" stroke-linejoin="round" stroke-dasharray="10.8 5.3" stroke-dashoffset="0.00"/>
<path d="M257.30,201.00 L257.66,200.40 L258.02,199.80 L258.41,199.22 L258.80,198.65 L259.21,198.09 L259.62,197.55 L260.05,197.02 L260.49,196.50 L260.94,195.99 L261.40,195.50 L261.87,195.03 L262.36,194.56 L262.87,194.10 L263.39,193.65 L263.93,193.21 L264.47,192.78 L265.03,192.36 L265.59,191.96 L266.16,191.57 L266.73,191.19 L267.31,190.83 L267.89,190.49 L268.48,190.16 L269.09,189.84 L269.70,189.53 L270.32,189.23 L270.95,188.94 L271.57,188.65 L272.20,188.37 L272.83,188.09 L273.46,187.81 L274.09,187.53 L274.71,187.25 L275.34,186.98 L275.97,186.70 L276.60,186.43 L277.24,186.17 L277.88,185.91 L278.52,185.67 L279.16,185.44 L279.81,185.23 L280.46,185.03 L281.11,184.83 L281.76,184.64 L282.42,184.45 L283.08,184.27 L283.74,184.09 L284.40,183.91 L285.06,183.74 L285.73,183.57 L286.39,183.41 L287.06,183.24 L287.73,183.09 L288.40,182.93 L289.07,182.78 L289.74,182.63 L290.42,182.49 L291.09,182.34 L291.76,182.20 L292.44,182.07 L293.11,181.93 L293.78,181.80 L294.46,181.67 L295.13,181.54 L295.80,181.42 L296.48,181.30 L297.15,181.18 L297.83,181.07 L298.50,180.96 L299.18,180.85 L299.86,180.75 L300.54,180.65 L301.22,180.55 L301.90,180.46 L302.57,180.37 L303.25,180.28 L303.93,180.19 L304.61,180.11 L305.29,180.03 L305.97,179.94 L306.65,179.86 L307.33,179.78 L308.02,179.70 L308.70,179.61 L309.38,179.53 L310.06,179.44 L310.73,179.35 L311.41,179.26 L312.09,179.17 L312.77,179.08 L313.45,178.99 L314.13,178.90 L314.81,178.81 L315.49,178.72 L316.17,178.63 L316.85,178.54 L317.53,178.46 L318.21,178.37 L318.89,178.29 L319.57,178.21 L320.25,178.13 L320.94,178.06 L321.62,177.98 L322.30,177.91 L322.98,177.85 L323.66,177.79 L324.34,177.73 L325.03,177.67 L325.71,177.63 L326.39,177.58 L327.08,177.54 L327.76,177.50 L328.44,177.46 L329.13,177.42 L329.81,177.38 L330.50,177.34 L331.18,177.30 L331.86,177.25 L332.55,177.20 L333.23,177.14 L333.91,177.08 L334.60,177.02 L335.28,176.96 L335.96,176.89 L336.64,176.83 L337.33,176.77 L338.01,176.72 L338.69,176.67 L339.38,176.63 L340.06,176.58 L340.74,176.54 L341.43,176.49 L342.11,176.45 L342.79,176.40 L343.48,176.36 L344.16,176.31 L344.85,176.27 L345.53,176.23 L346.22,176.19 L346.90,176.15 L347.59,176.11 L348.27,176.08 L348.96,176.05 L349.64,176.02 L350.33,175.99 L351.01,175.97 L351.69,175.94 L352.38,175.93 L353.06,175.91 L353.75,175.91 L354.43,175.90 L355.12,175.90 L355.80,175.91 L356.49,175.94 L357.17,175.96 L357.86,176.00 L358.54,176.03 L359.23,176.06 L359.91,176.08 L360.60,176.10 L361.28,176.10 L361.97,176.09 L362.65,176.07 L363.34,176.05 L364.02,176.02 L364.71,175.99 L365.39,175.95 L366.07,175.91 L366.76,175.87 L367.44,175.84 L368.13,175.81 L368.81,175.78 L369.50,175.75 L370.18,175.73 L370.87,175.70 L371.55,175.67 L372.24,175.65 L372.92,175.62 L373.61,175.60 L374.29,175.57 L374.98,175.55 L375.66,175.52 L376.35,175.49 L377.03,175.47 L377.71,175.44 L378.40,175.42 L379.08,175.39 L379.77,175.37 L380.45,175.34 L381.14,175.31 L381.82,175.29 L382.51,175.26 L383.19,175.23 L383.88,175.21 L384.56,175.18 L385.25,175.14 L385.93,175.11 L386.61,175.07 L387.30,175.04 L387.98,175.00 L388.67,174.97 L389.35,174.94 L390.04,174.92 L390.72,174.90 L391.41,174.89 L392.09,174.88 L392.78,174.87 L393.46,174.86 L394.15,174.85 L394.83,174.84 L395.52,174.83 L396.20,174.83 L396.89,174.82 L397.57,174.81 L398.26,174.81 L398.94,174.81 L399.63,174.80 L400.31,174.80 L401.00,174.80" stroke="#000000" stroke-width="1.75" fill="none" stroke-linejoin="round" stroke-dasharray="16.6 5.2 2.7 5.2" stroke-dashoffset="1.60"/>
</g>
<rect x="257.00" y="15.40" width="144.00" height="204.80" fill="none" stroke="#000" stroke-width="0.80"/>
<line x1="253.80" y1="220.20" x2="257.00" y2="220.20" stroke="#000" stroke-width="0.7" opacity="0.7"/>
<line x1="255.40" y1="212.49" x2="257.00" y2="212.49" stroke="#000" stroke-width="0.6" opacity="0.6"/>
<line x1="255.40" y1="202.31" x2="257.00" y2="202.31" stroke="#000" stroke-width="0.6" opacity="0.6"/>
<line x1="255.40" y1="197.08" x2="257.00" y2="197.08" stroke="#000" stroke-width="0.6" opacity="0.6"/>
<line x1="253.80" y1="194.60" x2="257.00" y2="194.60" stroke="#000" stroke-width="0.7" opacity="0.7"/>
<line x1="255.40" y1="186.89" x2="257.00" y2="186.89" stroke="#000" stroke-width="0.6" opacity="0.6"/>
<line x1="255.40" y1="176.71" x2="257.00" y2="176.71" stroke="#000" stroke-width="0.6" opacity="0.6"/>
<line x1="255.40" y1="171.48" x2="257.00" y2="171.48" stroke="#000" stroke-width="0.6" opacity="0.6"/>
<line x1="253.80" y1="169.00" x2="257.00" y2="169.00" stroke="#000" stroke-width="0.7" opacity="0.7"/>
<line x1="255.40" y1="161.29" x2="257.00" y2="161.29" stroke="#000" stroke-width="0.6" opacity="0.6"/>
<line x1="255.40" y1="151.11" x2="257.00" y2="151.11" stroke="#000" stroke-width="0.6" opacity="0.6"/>
<line x1="255.40" y1="145.88" x2="257.00" y2="145.88" stroke="#000" stroke-width="0.6" opacity="0.6"/>
<line x1="253.80" y1="143.40" x2="257.00" y2="143.40" stroke="#000" stroke-width="0.7" opacity="0.7"/>
<line x1="255.40" y1="135.69" x2="257.00" y2="135.69" stroke="#000" stroke-width="0.6" opacity="0.6"/>
<line x1="255.40" y1="125.51" x2="257.00" y2="125.51" stroke="#000" stroke-width="0.6" opacity="0.6"/>
<line x1="255.40" y1="120.28" x2="257.00" y2="120.28" stroke="#000" stroke-width="0.6" opacity="0.6"/>
<line x1="253.80" y1="117.80" x2="257.00" y2="117.80" stroke="#000" stroke-width="0.7" opacity="0.7"/>
<line x1="255.40" y1="110.09" x2="257.00" y2="110.09" stroke="#000" stroke-width="0.6" opacity="0.6"/>
<line x1="255.40" y1="99.91" x2="257.00" y2="99.91" stroke="#000" stroke-width="0.6" opacity="0.6"/>
<line x1="255.40" y1="94.68" x2="257.00" y2="94.68" stroke="#000" stroke-width="0.6" opacity="0.6"/>
<line x1="253.80" y1="92.20" x2="257.00" y2="92.20" stroke="#000" stroke-width="0.7" opacity="0.7"/>
<line x1="255.40" y1="84.49" x2="257.00" y2="84.49" stroke="#000" stroke-width="0.6" opacity="0.6"/>
<line x1="255.40" y1="74.31" x2="257.00" y2="74.31" stroke="#000" stroke-width="0.6" opacity="0.6"/>
<line x1="255.40" y1="69.08" x2="257.00" y2="69.08" stroke="#000" stroke-width="0.6" opacity="0.6"/>
<line x1="253.80" y1="66.60" x2="257.00" y2="66.60" stroke="#000" stroke-width="0.7" opacity="0.7"/>
<line x1="255.40" y1="58.89" x2="257.00" y2="58.89" stroke="#000" stroke-width="0.6" opacity="0.6"/>
<line x1="255.40" y1="48.71" x2="257.00" y2="48.71" stroke="#000" stroke-width="0.6" opacity="0.6"/>
<line x1="255.40" y1="43.48" x2="257.00" y2="43.48" stroke="#000" stroke-width="0.6" opacity="0.6"/>
<line x1="253.80" y1="41.00" x2="257.00" y2="41.00" stroke="#000" stroke-width="0.7" opacity="0.7"/>
<line x1="255.40" y1="33.29" x2="257.00" y2="33.29" stroke="#000" stroke-width="0.6" opacity="0.6"/>
<line x1="255.40" y1="23.11" x2="257.00" y2="23.11" stroke="#000" stroke-width="0.6" opacity="0.6"/>
<line x1="255.40" y1="17.88" x2="257.00" y2="17.88" stroke="#000" stroke-width="0.6" opacity="0.6"/>
<line x1="253.80" y1="15.40" x2="257.00" y2="15.40" stroke="#000" stroke-width="0.7" opacity="0.7"/>
<line x1="257.00" y1="220.20" x2="257.00" y2="223.40" stroke="#000" stroke-width="0.7" opacity="0.7"/>
<line x1="285.80" y1="220.20" x2="285.80" y2="223.40" stroke="#000" stroke-width="0.7" opacity="0.7"/>
<line x1="314.60" y1="220.20" x2="314.60" y2="223.40" stroke="#000" stroke-width="0.7" opacity="0.7"/>
<line x1="343.40" y1="220.20" x2="343.40" y2="223.40" stroke="#000" stroke-width="0.7" opacity="0.7"/>
<line x1="372.20" y1="220.20" x2="372.20" y2="223.40" stroke="#000" stroke-width="0.7" opacity="0.7"/>
<line x1="401.00" y1="220.20" x2="401.00" y2="223.40" stroke="#000" stroke-width="0.7" opacity="0.7"/>
<g opacity="0.999">
<text transform="translate(45.30,219.90) scale(1,1.045)" font-size="11.30" text-anchor="end">1</text>
<line x1="34.00" y1="216.80" x2="39.70" y2="216.80" stroke="#000" stroke-width="0.75"/>
<text transform="translate(34.10,226.10) scale(1,1.045)" font-size="13.40" text-anchor="end">10</text>
<text transform="translate(45.30,194.30) scale(1,1.045)" font-size="11.30" text-anchor="end">0</text>
<text transform="translate(39.90,200.50) scale(1,1.045)" font-size="13.40" text-anchor="end">10</text>
<text transform="translate(45.30,168.70) scale(1,1.045)" font-size="11.30" text-anchor="end">1</text>
<text transform="translate(39.90,174.90) scale(1,1.045)" font-size="13.40" text-anchor="end">10</text>
<text transform="translate(45.30,143.10) scale(1,1.045)" font-size="11.30" text-anchor="end">2</text>
<text transform="translate(39.90,149.30) scale(1,1.045)" font-size="13.40" text-anchor="end">10</text>
<text transform="translate(45.30,117.50) scale(1,1.045)" font-size="11.30" text-anchor="end">3</text>
<text transform="translate(39.90,123.70) scale(1,1.045)" font-size="13.40" text-anchor="end">10</text>
<text transform="translate(45.30,91.90) scale(1,1.045)" font-size="11.30" text-anchor="end">4</text>
<text transform="translate(39.90,98.10) scale(1,1.045)" font-size="13.40" text-anchor="end">10</text>
<text transform="translate(45.30,66.30) scale(1,1.045)" font-size="11.30" text-anchor="end">5</text>
<text transform="translate(39.90,72.50) scale(1,1.045)" font-size="13.40" text-anchor="end">10</text>
<text transform="translate(45.30,40.70) scale(1,1.045)" font-size="11.30" text-anchor="end">6</text>
<text transform="translate(39.90,46.90) scale(1,1.045)" font-size="13.40" text-anchor="end">10</text>
<text transform="translate(45.30,15.10) scale(1,1.045)" font-size="11.30" text-anchor="end">7</text>
<text transform="translate(39.90,21.30) scale(1,1.045)" font-size="13.40" text-anchor="end">10</text>
<text transform="translate(249.80,219.90) scale(1,1.045)" font-size="11.30" text-anchor="end">1</text>
<line x1="238.50" y1="216.80" x2="244.20" y2="216.80" stroke="#000" stroke-width="0.75"/>
<text transform="translate(238.60,226.10) scale(1,1.045)" font-size="13.40" text-anchor="end">10</text>
<text transform="translate(249.80,194.30) scale(1,1.045)" font-size="11.30" text-anchor="end">0</text>
<text transform="translate(244.40,200.50) scale(1,1.045)" font-size="13.40" text-anchor="end">10</text>
<text transform="translate(249.80,168.70) scale(1,1.045)" font-size="11.30" text-anchor="end">1</text>
<text transform="translate(244.40,174.90) scale(1,1.045)" font-size="13.40" text-anchor="end">10</text>
<text transform="translate(249.80,143.10) scale(1,1.045)" font-size="11.30" text-anchor="end">2</text>
<text transform="translate(244.40,149.30) scale(1,1.045)" font-size="13.40" text-anchor="end">10</text>
<text transform="translate(249.80,117.50) scale(1,1.045)" font-size="11.30" text-anchor="end">3</text>
<text transform="translate(244.40,123.70) scale(1,1.045)" font-size="13.40" text-anchor="end">10</text>
<text transform="translate(249.80,91.90) scale(1,1.045)" font-size="11.30" text-anchor="end">4</text>
<text transform="translate(244.40,98.10) scale(1,1.045)" font-size="13.40" text-anchor="end">10</text>
<text transform="translate(249.80,66.30) scale(1,1.045)" font-size="11.30" text-anchor="end">5</text>
<text transform="translate(244.40,72.50) scale(1,1.045)" font-size="13.40" text-anchor="end">10</text>
<text transform="translate(249.80,40.70) scale(1,1.045)" font-size="11.30" text-anchor="end">6</text>
<text transform="translate(244.40,46.90) scale(1,1.045)" font-size="13.40" text-anchor="end">10</text>
<text transform="translate(249.80,15.10) scale(1,1.045)" font-size="11.30" text-anchor="end">7</text>
<text transform="translate(244.40,21.30) scale(1,1.045)" font-size="13.40" text-anchor="end">10</text>
<line x1="37.20" y1="231.75" x2="43.80" y2="231.75" stroke="#000" stroke-width="0.8"/>
<text transform="translate(44.50,236.1) scale(1,1.045)" font-size="13.40">100</text>
<line x1="69.77" y1="231.75" x2="76.37" y2="231.75" stroke="#000" stroke-width="0.8"/>
<text transform="translate(77.07,236.1) scale(1,1.045)" font-size="13.40">80</text>
<line x1="98.59" y1="231.75" x2="105.19" y2="231.75" stroke="#000" stroke-width="0.8"/>
<text transform="translate(105.89,236.1) scale(1,1.045)" font-size="13.40">60</text>
<line x1="127.01" y1="231.75" x2="133.61" y2="231.75" stroke="#000" stroke-width="0.8"/>
<text transform="translate(134.31,236.1) scale(1,1.045)" font-size="13.40">40</text>
<line x1="155.73" y1="231.75" x2="162.33" y2="231.75" stroke="#000" stroke-width="0.8"/>
<text transform="translate(163.03,236.1) scale(1,1.045)" font-size="13.40">20</text>
<text transform="translate(196.80,236.1) scale(1,1.045)" font-size="13.40" text-anchor="middle">0</text>
<text transform="translate(257.00,236.1) scale(1,1.045)" font-size="13.40" text-anchor="middle">0</text>
<text transform="translate(285.80,236.1) scale(1,1.045)" font-size="13.40" text-anchor="middle">20</text>
<text transform="translate(314.60,236.1) scale(1,1.045)" font-size="13.40" text-anchor="middle">40</text>
<text transform="translate(343.40,236.1) scale(1,1.045)" font-size="13.40" text-anchor="middle">60</text>
<text transform="translate(372.20,236.1) scale(1,1.045)" font-size="13.40" text-anchor="middle">80</text>
<text transform="translate(401.00,236.1) scale(1,1.045)" font-size="13.40" text-anchor="middle">100</text>
<text x="124.70" y="253.1" font-size="15.20" text-anchor="middle">E<tspan font-size="11.6" dy="5.3">F</tspan><tspan dy="-5.3"> [meV]</tspan></text>
<text x="329.20" y="253.1" font-size="15.20" text-anchor="middle">E<tspan font-size="11.6" dy="5.3">F</tspan><tspan dy="-5.3"> [meV]</tspan></text>
<text x="122.60" y="10" font-size="14.85" text-anchor="middle">Valence band</text>
<text x="331.50" y="10" font-size="15.00" text-anchor="middle">Conduction band</text>
<text x="2.6" y="20.8" font-size="15.20">(a)</text>
<text x="207.0" y="20.8" font-size="15.20">(b)</text>
<g transform="translate(14.60,164.40) rotate(-90)">
<text transform="translate(0,0) scale(1.08,1)" font-size="13.90">b</text>
<text x="6.6 13.1 21.6 30.5 37.6" y="5.0" font-size="11.40">SQA=X</text>
<text x="6.9" y="-8.0" font-size="10.60">2</text>
<line x1="44.9" y1="-0.5" x2="49.7" y2="-9.5" stroke="#000" stroke-width="0.85"/>
<text transform="translate(50.2,0) scale(1.08,1)" font-size="13.90">b</text>
<text x="57.4 63.9 71.9 80.0 86.4" y="5.0" font-size="11.40">SQA=Z</text>
<text x="56.5" y="-8.0" font-size="10.60">2</text>
</g>
<g transform="translate(219.10,164.40) rotate(-90)">
<text transform="translate(0,0) scale(1.08,1)" font-size="13.90">b</text>
<text x="6.6 13.1 21.6 30.5 37.6" y="5.0" font-size="11.40">SQA=X</text>
<text x="6.9" y="-8.0" font-size="10.60">2</text>
<line x1="44.9" y1="-0.5" x2="49.7" y2="-9.5" stroke="#000" stroke-width="0.85"/>
<text transform="translate(50.2,0) scale(1.08,1)" font-size="13.90">b</text>
<text x="57.4 63.9 71.9 80.0 86.4" y="5.0" font-size="11.40">SQA=Z</text>
<text x="56.5" y="-8.0" font-size="10.60">2</text>
</g>
<text transform="translate(78.30,46.80) scale(1,1.045)" font-size="13.40" text-anchor="end">C</text>
<text transform="translate(78.30,60.70) scale(1,1.045)" font-size="13.40" text-anchor="end">Si</text>
<text transform="translate(138.50,46.80) scale(1,1.045)" font-size="13.40" text-anchor="end">Ge</text>
<text transform="translate(138.50,60.70) scale(1,1.045)" font-size="13.40" text-anchor="end">Sn</text>
<line x1="86.5" y1="42.6" x2="114.3" y2="42.6" stroke="#0000ff" stroke-width="1.75"/>
<line x1="86.5" y1="55.9" x2="114.3" y2="55.9" stroke="#ff0000" stroke-width="1.75" stroke-dasharray="2.4 4.5"/>
<line x1="146.6" y1="42.6" x2="173.7" y2="42.6" stroke="#ffa500" stroke-width="1.75" stroke-dasharray="10.5 5.8"/>
<line x1="146.6" y1="55.9" x2="173.7" y2="55.9" stroke="#000000" stroke-width="1.75" stroke-dasharray="16 6 1.9 6"/>
</g>
</svg>
</body></html>
